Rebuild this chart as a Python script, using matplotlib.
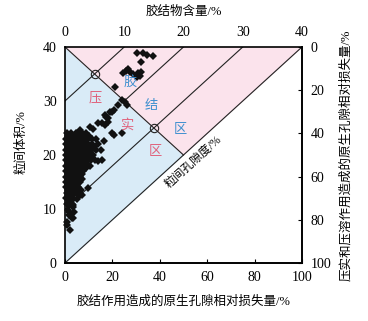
import matplotlib
matplotlib.use('Agg')
import matplotlib.pyplot as plt

plt.rcParams['font.family'] = ['Liberation Serif', 'Noto Sans CJK SC']

# cement content (%) and intergranular volume (%)
cement = [12.2, 13.1, 13.9, 14.8, 12.9, 10.7, 11.0, 9.8, 10.3, 12.4, 12.9, 12.7, 12.1, 11.5,
          8.4, 9.6, 10.1, 10.4, 9.0, 8.2, 7.6, 7.0, 7.9, 7.3, 6.8, 5.6, 8.2, 6.5, 4.8,
          5.1, 5.6, 2.5, 4.2, 7.3, 6.2, 6.8, 7.9, 9.6, 6.2, 3.9, 2.5, 2.8, 1.4,
          0.3, 1.0, 1.8, 2.8, 3.5,
          0.2, 0.8, 1.5, 2.3, 3.0, 3.8, 4.5, 5.2,
          0.2, 0.9, 1.6, 2.4, 3.1, 3.9, 4.6, 5.5,
          0.2, 0.8, 1.5, 2.2, 3.0, 3.7, 4.4, 5.2, 6.0,
          0.2, 0.9, 1.6, 2.4, 3.2, 4.0, 4.8,
          0.2, 0.8, 1.5, 2.3, 3.0, 3.8, 4.4,
          0.2, 0.9, 1.7, 2.5, 3.3, 4.2,
          0.2, 0.8, 1.6, 2.4, 3.1,
          0.2, 1.0, 1.8, 2.6,
          0.2, 0.9, 1.7, 2.5,
          0.2, 0.8, 1.5, 2.2,
          0.3, 1.0, 1.8,
          0.2, 0.9,
          0.4, 1.2,
          0.8, 1.4, 0.5, 1.2, 0.3, 0.8, 0.4, 1.0,
          0.6, 1.3, 2.0, 2.7, 3.4, 0.6, 1.2, 1.9, 2.7, 3.5, 4.2,
          0.5, 1.2, 2.0, 2.8, 3.6, 0.5, 1.3, 2.1, 2.9, 0.5, 1.3, 2.0, 0.6, 1.4,
          0.5, 1.2, 1.9, 2.6, 3.3, 4.0,
          0.5, 1.2, 1.9, 2.6, 3.3, 4.1, 4.9,
          0.5, 1.2, 1.9, 2.6, 3.4,
          0.5, 1.2, 1.9, 2.7, 3.6,
          0.5, 1.3, 2.1, 2.9,
          0.5, 1.3, 2.0, 2.7,
          0.6, 1.4, 2.1, 0.6, 1.3, 0.7, 1.5, 0.6]
igv = [38.9, 38.8, 38.5, 38.3, 37.3, 36.0, 35.4, 35.1, 35.5, 35.1, 35.4, 34.6, 34.5, 35.0,
       32.6, 30.2, 29.9, 29.3, 29.3, 28.3, 28.0, 27.1, 28.0, 26.2, 25.6, 25.9, 23.7, 22.5, 24.9,
       19.1, 18.8, 24.6, 25.2, 26.9, 25.9, 27.4, 24.0, 24.0, 19.1, 13.8, 12.6, 12.6, 8.3,
       24, 24, 24, 24, 24,
       23, 23, 23, 23, 23, 23, 23, 23,
       22, 22, 22, 22, 22, 22, 22, 22,
       21, 21, 21, 21, 21, 21, 21, 21, 21,
       20, 20, 20, 20, 20, 20, 20,
       19, 19, 19, 19, 19, 19, 19,
       18, 18, 18, 18, 18, 18,
       17, 17, 17, 17, 17,
       16, 16, 16, 16,
       15, 15, 15, 15,
       14, 14, 14, 14,
       13, 13, 13,
       12, 12,
       11, 11,
       11.3, 10.4, 9.8, 8.3, 7.6, 6.1, 7.0, 9.0,
       22.5, 22.5, 22.5, 22.5, 22.5, 20.5, 20.5, 20.5, 20.5, 20.5, 20.5,
       18.5, 18.5, 18.5, 18.5, 18.5, 16.5, 16.5, 16.5, 16.5, 14.5, 14.5, 14.5, 12.5, 12.5,
       23.5, 23.5, 23.5, 23.5, 23.5, 23.5,
       21.5, 21.5, 21.5, 21.5, 21.5, 21.5, 21.5,
       19.5, 19.5, 19.5, 19.5, 19.5,
       17.5, 17.5, 17.5, 17.5, 17.5,
       15.5, 15.5, 15.5, 15.5,
       13.5, 13.5, 13.5, 13.5,
       11.8, 11.8, 11.8, 10.8, 10.8, 9.5, 9.5, 8.8]

top_ticks = [0, 10, 20, 30, 40]
loss_ticks = [0, 20, 40, 60, 80, 100]

fig = plt.figure(figsize=(3.68, 3.21), dpi=100)
ax = fig.add_axes([0.1766, 0.1807, 0.644, 0.6729])
ax.set_xlim(0, 40)
ax.set_ylim(0, 40)

# zones
ax.fill([0, 0, 20], [0, 40, 20], color='#d9ebf7', zorder=0)
ax.fill([0, 40, 20], [40, 40, 20], color='#fbe3ec', zorder=0)

lc = '#222222'
ax.plot([0, 40], [0, 40], color=lc, lw=0.8)
ax.plot([0, 20], [40, 20], color=lc, lw=0.8)
ax.plot([10, 0], [40, 30], color=lc, lw=0.8)
ax.plot([20, 10], [40, 30], color=lc, lw=0.8)
ax.plot([30, 0], [40, 10], color=lc, lw=0.8)
ax.plot([5, 15], [35, 25], 'o', mfc='none', mec=lc, ms=6, mew=0.8)

ax.plot(cement, igv, 'D', color='#111111', ms=4.2, mew=0, clip_on=False, zorder=3)

blue = '#3d8fcf'
red = '#e0607a'
ax.text(11.0, 33.5, '胶', color=blue, fontsize=9.5, ha='center', va='center')
ax.text(14.5, 29.0, '结', color=blue, fontsize=9.5, ha='center', va='center')
ax.text(19.4, 24.6, '区', color=blue, fontsize=9.5, ha='center', va='center')
ax.text(5.1, 30.5, '压', color=red, fontsize=9.5, ha='center', va='center')
ax.text(10.4, 25.6, '实', color=red, fontsize=9.5, ha='center', va='center')
ax.text(15.2, 20.6, '区', color=red, fontsize=9.5, ha='center', va='center')
ax.text(21.6, 18.7, '粒间孔隙度/%', fontsize=8.5, rotation=42, ha='center', va='center')

ax.xaxis.tick_top()
ax.xaxis.set_label_position('top')
ax.set_xticks(top_ticks)
ax.set_yticks(top_ticks)
ax.tick_params(axis='both', length=0, labelsize=10, pad=6)
ax.set_xlabel('胶结物含量/%', fontsize=9, labelpad=8)
ax.set_ylabel('粒间体积/%', fontsize=9, labelpad=10)
ax.yaxis.set_label_coords(-0.16, 0.56)

secx = ax.secondary_xaxis('bottom', functions=(lambda x: x * 2.5, lambda v: v / 2.5))
secx.set_xticks(loss_ticks)
secx.tick_params(direction='in', length=3, labelsize=10, pad=6)
secx.set_xlabel('胶结作用造成的原生孔隙相对损失量/%', fontsize=9, labelpad=8)

secy = ax.secondary_yaxis('right', functions=(lambda y: (40 - y) * 2.5, lambda v: 40 - v / 2.5))
secy.set_yticks(loss_ticks)
secy.tick_params(direction='in', length=3, labelsize=10, pad=6)
secy.set_ylabel('压实和压溶作用造成的原生孔隙相对损失量/%', fontsize=9, rotation=90, labelpad=6)

for s in ax.spines.values():
    s.set_linewidth(1.2)
secx.spines['bottom'].set_linewidth(1.2)
secy.spines['right'].set_linewidth(1.2)

fig.savefig('out.png', dpi=100)
